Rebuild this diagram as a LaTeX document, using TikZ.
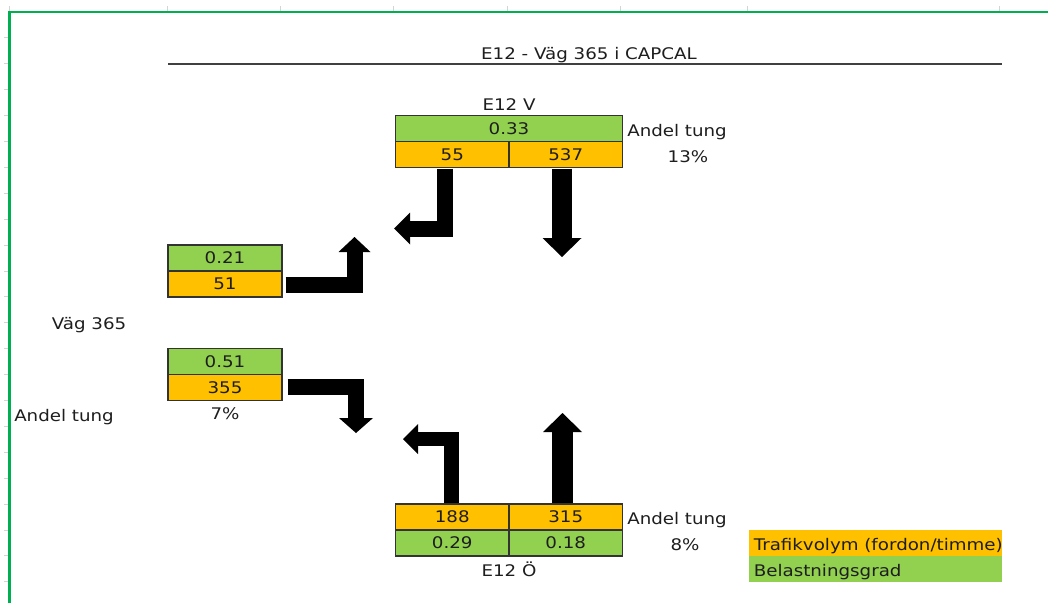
\documentclass[tikz,border=0pt]{standalone}
\usepackage{fontspec}
\setmainfont{DejaVu Sans}[FakeStretch=1.14]
\usetikzlibrary{arrows.meta,calc}
\definecolor{xlgreen}{HTML}{92D050}
\definecolor{xlorange}{HTML}{FFC000}
\definecolor{sheetgreen}{HTML}{00B050}
\definecolor{txt}{HTML}{1E1E1E}
\definecolor{tick}{HTML}{D4D4D4}
\begin{document}
\begin{tikzpicture}[x=0.75pt,y=-0.75pt,
  font=\fontsize{12pt}{14pt}\selectfont, text=txt,
  cell/.style={draw=black!80, line width=1pt, inner sep=0pt, minimum height=19.425pt, text=txt},
  wide/.style={cell, minimum width=170.25pt},
  half/.style={cell, minimum width=85.125pt},
  lbox/.style={cell, minimum width=85.5pt},
  gcell/.style={fill=xlgreen},
  ocell/.style={fill=xlorange},
  lab/.style={inner sep=0pt, anchor=base},
  blk/.style={draw=black, line width=#1, line join=miter},
]
\useasboundingbox (0,0) rectangle (1048,603);
\fill[white] (0,0) rectangle (1048,603);
% sheet ticks
\foreach \x in {9,167,280,393.5,507,620,747,999} \draw[tick, line width=0.75pt] (\x,6) -- (\x,11);
\foreach \k in {1,...,22} \draw[tick, line width=0.75pt] (4,12+\k*25.9) -- (9,12+\k*25.9);
% sheet border
\draw[sheetgreen, line width=1.8pt] (9.5,603) -- (9.5,12) -- (1048,12);
% title
\node[lab] (title) at (589,59.5) {E12 - Väg 365 i CAPCAL};
\draw[black!75, line width=1.3pt] (168,63.8) -- (1002,63.8);

% top box E12 V
\node[lab] (e12v) at (509,110.7) {E12 V};
\node[wide,gcell] (c033) at (509,128.55) {0.33};
\node[half,ocell] (c55) at (452.25,154.45) {55};
\node[half,ocell] (c537) at (565.75,154.45) {537};
\node[lab,anchor=base west] (atop) at (627,136.5) {Andel tung};
\node[lab] (ptop) at (688,162) {13\%};

% left upper box
\node[lbox,gcell] (c021) at (225,258.05) {0.21};
\node[lbox,ocell] (c51) at (225,283.95) {51};
\node[lab] (vag) at (89,329) {Väg 365};

% left lower box
\node[lbox,gcell] (c051) at (225,361.65) {0.51};
\node[lbox,ocell] (c355) at (225,387.55) {355};
\node[lab] (pleft) at (225,419.3) {7\%};
\node[lab,anchor=base west] (aleft) at (14,421.7) {Andel tung};

% bottom box E12 Ö
\node[half,ocell] (c188) at (452.25,517.05) {188};
\node[half,ocell] (c315) at (565.75,517.05) {315};
\node[half,gcell] (c029) at (452.25,542.95) {0.29};
\node[half,gcell] (c018) at (565.75,542.95) {0.18};
\node[lab] (e12o) at (509,576) {E12 Ö};
\node[lab,anchor=base west] (abot) at (627,524) {Andel tung};
\node[lab] (pbot) at (685,550.7) {8\%};

% legend
\fill[xlorange] (749,530) rectangle (1002,555.9);
\fill[xlgreen] (749,555.9) rectangle (1002,581.8);
\node[lab,anchor=base west] (leg1) at (753.5,550) {Trafikvolym (fordon/timme)};
\node[lab,anchor=base west] (leg2) at (753.5,576) {Belastningsgrad};

% arrows
\coordinate (t1) at (394,228.5);
\coordinate (t2) at (562,257);
\coordinate (t3) at (354.5,237);
\coordinate (t4) at (356,433);
\coordinate (t5) at (403,439);
\coordinate (t6) at (562.5,413);

\draw[blk=12pt, -{Triangle[length=12pt,width=24pt,line width=0pt]}]
  ($(c55.south)+(-7.25,0.6)$) |- (t1);
\draw[blk=15pt, -{Triangle[length=14.25pt,width=29.25pt,line width=0pt]}]
  ($(c537.south)+(-3.75,0.6)$) -- (t2);
\draw[blk=12pt, -{Triangle[length=11.25pt,width=24pt,line width=0pt]}]
  ($(c51.east)+(3,1)$) -| (t3);
\draw[blk=12pt, -{Triangle[length=11.25pt,width=25.5pt,line width=0pt]}]
  ($(c355.east)+(5,-1)$) -| (t4);
\draw[blk=11pt, -{Triangle[length=11.25pt,width=22.5pt,line width=0pt]}]
  ($(c188.north)+(-0.75,-0.6)$) |- (t5);
\draw[blk=15.75pt, -{Triangle[length=14.25pt,width=29.25pt,line width=0pt]}]
  ($(c315.north)+(-3.25,-0.6)$) -- (t6);
\end{tikzpicture}
\end{document}
